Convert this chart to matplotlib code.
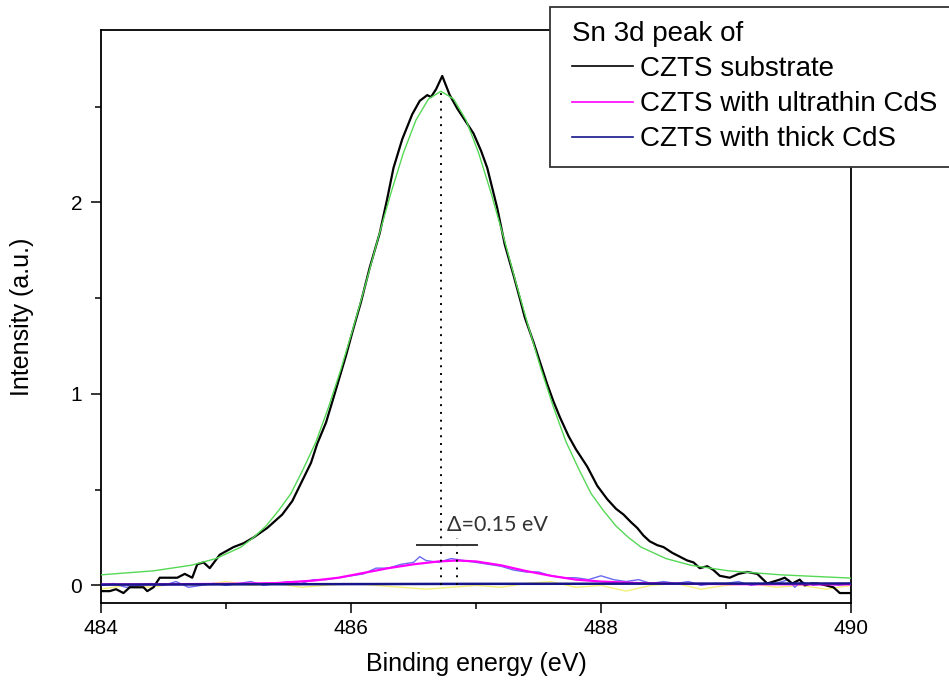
import numpy as np
import matplotlib.pyplot as plt
from matplotlib.lines import Line2D
from matplotlib.patches import Rectangle

# Sn 3d peak, CZTS substrate (measured)
sub_e = [484.00, 484.07, 484.12, 484.18, 484.23, 484.30, 484.34, 484.37, 484.42, 484.47,
         484.55, 484.61, 484.67, 484.73, 484.77, 484.82, 484.87, 484.95, 485.06, 485.14,
         485.22, 485.33, 485.45, 485.53, 485.62, 485.68, 485.73, 485.80, 485.86, 485.91,
         485.96, 486.01, 486.08, 486.15, 486.23, 486.29, 486.34, 486.41, 486.49, 486.55,
         486.61, 486.64, 486.68, 486.73, 486.79, 486.85, 486.92, 486.98, 487.04, 487.09,
         487.17, 487.23, 487.30, 487.35, 487.39, 487.46, 487.52, 487.57, 487.62, 487.67,
         487.74, 487.80, 487.89, 487.97, 488.05, 488.12, 488.18, 488.24, 488.29, 488.34,
         488.39, 488.45, 488.50, 488.57, 488.63, 488.69, 488.74, 488.79, 488.85, 488.90,
         488.95, 489.03, 489.10, 489.17, 489.25, 489.33, 489.38, 489.43, 489.47, 489.53,
         489.59, 489.63, 489.68, 489.73, 489.80, 489.86, 489.91, 490.00]
sub_i = [-0.03, -0.03, -0.02, -0.04, -0.01, -0.01, -0.01, -0.03, -0.01, 0.04,
         0.04, 0.04, 0.06, 0.04, 0.11, 0.12, 0.09, 0.16, 0.20, 0.22,
         0.25, 0.30, 0.37, 0.44, 0.56, 0.64, 0.74, 0.85, 0.98, 1.09,
         1.20, 1.32, 1.48, 1.66, 1.84, 2.02, 2.18, 2.33, 2.46, 2.53,
         2.56, 2.55, 2.59, 2.66, 2.56, 2.49, 2.42, 2.36, 2.27, 2.18,
         1.97, 1.78, 1.62, 1.50, 1.40, 1.27, 1.15, 1.05, 0.96, 0.88,
         0.78, 0.71, 0.62, 0.52, 0.45, 0.40, 0.37, 0.33, 0.30, 0.26,
         0.23, 0.21, 0.20, 0.17, 0.15, 0.13, 0.12, 0.09, 0.10, 0.08,
         0.05, 0.04, 0.06, 0.07, 0.06, 0.01, 0.02, 0.03, 0.04, 0.01,
         0.03, 0.00, 0.01, 0.01, 0.00, -0.01, -0.04, -0.04]

# fit of the substrate peak
fit_e = [484.00, 484.42, 484.72, 484.92, 485.12, 485.22, 485.32, 485.42, 485.52, 485.62,
         485.72, 485.82, 485.92, 486.02, 486.12, 486.22, 486.32, 486.42, 486.52, 486.62,
         486.72, 486.82, 486.92, 487.02, 487.12, 487.22, 487.32, 487.42, 487.52, 487.62,
         487.72, 487.82, 487.92, 488.02, 488.12, 488.22, 488.32, 488.52, 488.72, 489.02,
         489.44, 490.00]
fit_i = [0.055, 0.076, 0.105, 0.14, 0.20, 0.25, 0.31, 0.39, 0.48, 0.61,
         0.75, 0.93, 1.13, 1.35, 1.58, 1.82, 2.05, 2.26, 2.43, 2.54,
         2.58, 2.54, 2.43, 2.26, 2.05, 1.82, 1.58, 1.35, 1.13, 0.93,
         0.75, 0.61, 0.48, 0.39, 0.31, 0.25, 0.20, 0.14, 0.105, 0.076,
         0.055, 0.038]

# ultrathin CdS: raw and fit
thin_raw_e = [484.0, 484.1, 484.2, 484.3, 484.4, 484.5, 484.6, 484.7, 484.8, 484.9,
              485.0, 485.1, 485.2, 485.3, 485.4, 485.5, 485.6, 485.7, 485.8, 485.9,
              486.0, 486.1, 486.2, 486.3, 486.4, 486.5, 486.55, 486.6, 486.7, 486.8,
              486.9, 487.0, 487.1, 487.2, 487.3, 487.4, 487.5, 487.6, 487.7, 487.8,
              487.9, 488.0, 488.1, 488.2, 488.3, 488.4, 488.5, 488.6, 488.7, 488.8,
              488.9, 489.0, 489.1, 489.2, 489.3, 489.4, 489.5, 489.55, 489.6, 489.7,
              489.8, 489.9, 490.0]
thin_raw_i = [0.00, 0.01, -0.01, 0.00, 0.01, 0.00, 0.02, -0.01, 0.00, 0.01,
              0.00, 0.01, 0.02, 0.00, 0.01, 0.02, 0.01, 0.03, 0.03, 0.04,
              0.05, 0.06, 0.09, 0.09, 0.11, 0.12, 0.15, 0.13, 0.12, 0.14,
              0.13, 0.12, 0.11, 0.10, 0.08, 0.07, 0.07, 0.05, 0.04, 0.04,
              0.03, 0.05, 0.03, 0.02, 0.03, 0.01, 0.02, 0.01, 0.02, 0.00,
              0.01, 0.01, 0.02, 0.00, 0.01, 0.01, 0.03, -0.01, 0.02, 0.00,
              0.01, 0.00, 0.01]
thin_fit_e = [484.0, 484.5, 485.0, 485.4, 485.7, 485.9, 486.1, 486.3, 486.5, 486.7,
              486.85, 487.0, 487.2, 487.4, 487.6, 487.8, 488.0, 488.3, 488.7, 489.2,
              490.0]
thin_fit_i = [0.005, 0.006, 0.008, 0.012, 0.025, 0.04, 0.065, 0.09, 0.11, 0.125,
              0.13, 0.125, 0.105, 0.075, 0.05, 0.03, 0.02, 0.012, 0.008, 0.006,
              0.005]

# thick CdS: raw and fit
thick_raw_e = [484.0, 484.2, 484.4, 484.6, 484.8, 485.0, 485.2, 485.4, 485.6, 485.8,
               486.0, 486.2, 486.4, 486.6, 486.8, 487.0, 487.2, 487.4, 487.6, 487.8,
               488.0, 488.2, 488.4, 488.6, 488.8, 489.0, 489.2, 489.4, 489.6, 489.8,
               490.0]
thick_raw_i = [-0.02, 0.00, -0.01, 0.01, 0.00, 0.02, 0.00, 0.01, -0.01, 0.00,
               0.01, 0.00, -0.01, -0.02, -0.01, 0.00, -0.01, 0.01, 0.02, -0.01,
               0.00, -0.03, 0.00, 0.01, -0.02, 0.00, 0.01, -0.01, 0.00, -0.02,
               0.00]
thick_fit_e = [484.0, 485.5, 487.0, 488.5, 490.0]
thick_fit_i = [0.004, 0.006, 0.008, 0.009, 0.010]

# peak positions and shift marker
peak_sub = 486.72
peak_thin = 486.85
delta_label = '\u0394=0.15 eV'

fig = plt.figure(figsize=(9.49, 6.93), dpi=100)
ax = fig.add_axes([101/949, 1-603/693, 750/949, 573/693])

ax.plot(thick_raw_e, thick_raw_i, color='#f4f07a', lw=1.0, zorder=2)
ax.plot(thin_raw_e, thin_raw_i, color='#6a6af0', lw=1.0, zorder=2)
ax.plot(fit_e, fit_i, color='#55d855', lw=1.0, zorder=4)
l1, = ax.plot(sub_e, sub_i, color='black', lw=1.6, zorder=3)
l2, = ax.plot(thin_fit_e, thin_fit_i, color='#ff00ff', lw=1.6, zorder=3)
l3, = ax.plot(thick_fit_e, thick_fit_i, color='#16168a', lw=1.8, zorder=3)

ax.plot([peak_sub, peak_sub], [0.0, 2.58], color='black', ls=(0, (1, 3)), lw=1.4, zorder=5)
ax.plot([peak_thin, peak_thin], [0.0, 0.25], color='black', ls=(0, (1, 3)), lw=1.4, zorder=5)
ax.plot([486.53, 487.01], [0.21, 0.21], color='#333333', lw=1.4, zorder=5)
ax.text(486.77, 0.285, delta_label, fontsize=15.5, family='Lato', color='#333333',
        ha='left', va='baseline')

ax.set_xlim(484, 490)
ax.set_ylim(-0.092, 2.90)
ax.set_xticks([484, 486, 488, 490])
ax.set_xticks([485, 487, 489], minor=True)
ax.set_yticks([0, 1, 2])
ax.set_yticks([0.5, 1.5, 2.5], minor=True)
ax.tick_params(which='both', direction='out', width=1.1, labelsize=15)
ax.tick_params(which='major', length=7.5)
ax.tick_params(which='minor', length=4)
ax.tick_params(axis='x', pad=4)
ax.tick_params(axis='y', pad=6)
for lab in ax.get_xticklabels() + ax.get_yticklabels():
    lab.set_family('Liberation Sans')
for s in ax.spines.values():
    s.set_linewidth(1.3)

ax.set_xlabel('Binding energy (eV)', fontsize=18, family='Liberation Sans', labelpad=10)
ax.set_ylabel('Intensity (a.u.)', fontsize=18, family='Liberation Sans', labelpad=26)

# legend box runs past the right edge of the figure, as in the original
box = Rectangle((550/949, 1-167/693), 420/949, 160/693, transform=fig.transFigure,
                facecolor='white', edgecolor='#333333', lw=1.3, zorder=10)
fig.add_artist(box)

handles = [Line2D([], [], color='black', lw=1.2),
           Line2D([], [], color='#ff00ff', lw=1.2),
           Line2D([], [], color='#16168a', lw=1.2)]
labels = ['CZTS substrate', 'CZTS with ultrathin CdS', 'CZTS with thick CdS']
leg = fig.legend(handles, labels, loc='upper left', bbox_to_anchor=(572/949, 1-21/693),
                 title='Sn 3d peak of', alignment='left', frameon=False,
                 handlelength=2.2, handletextpad=0.25, labelspacing=0.33,
                 borderpad=0, borderaxespad=0,
                 prop={'family': 'Liberation Sans', 'size': 20}, title_fontsize=20)
leg.get_title().set_family('Liberation Sans')
leg.set_zorder(11)

fig.savefig('out.png', dpi=100)
